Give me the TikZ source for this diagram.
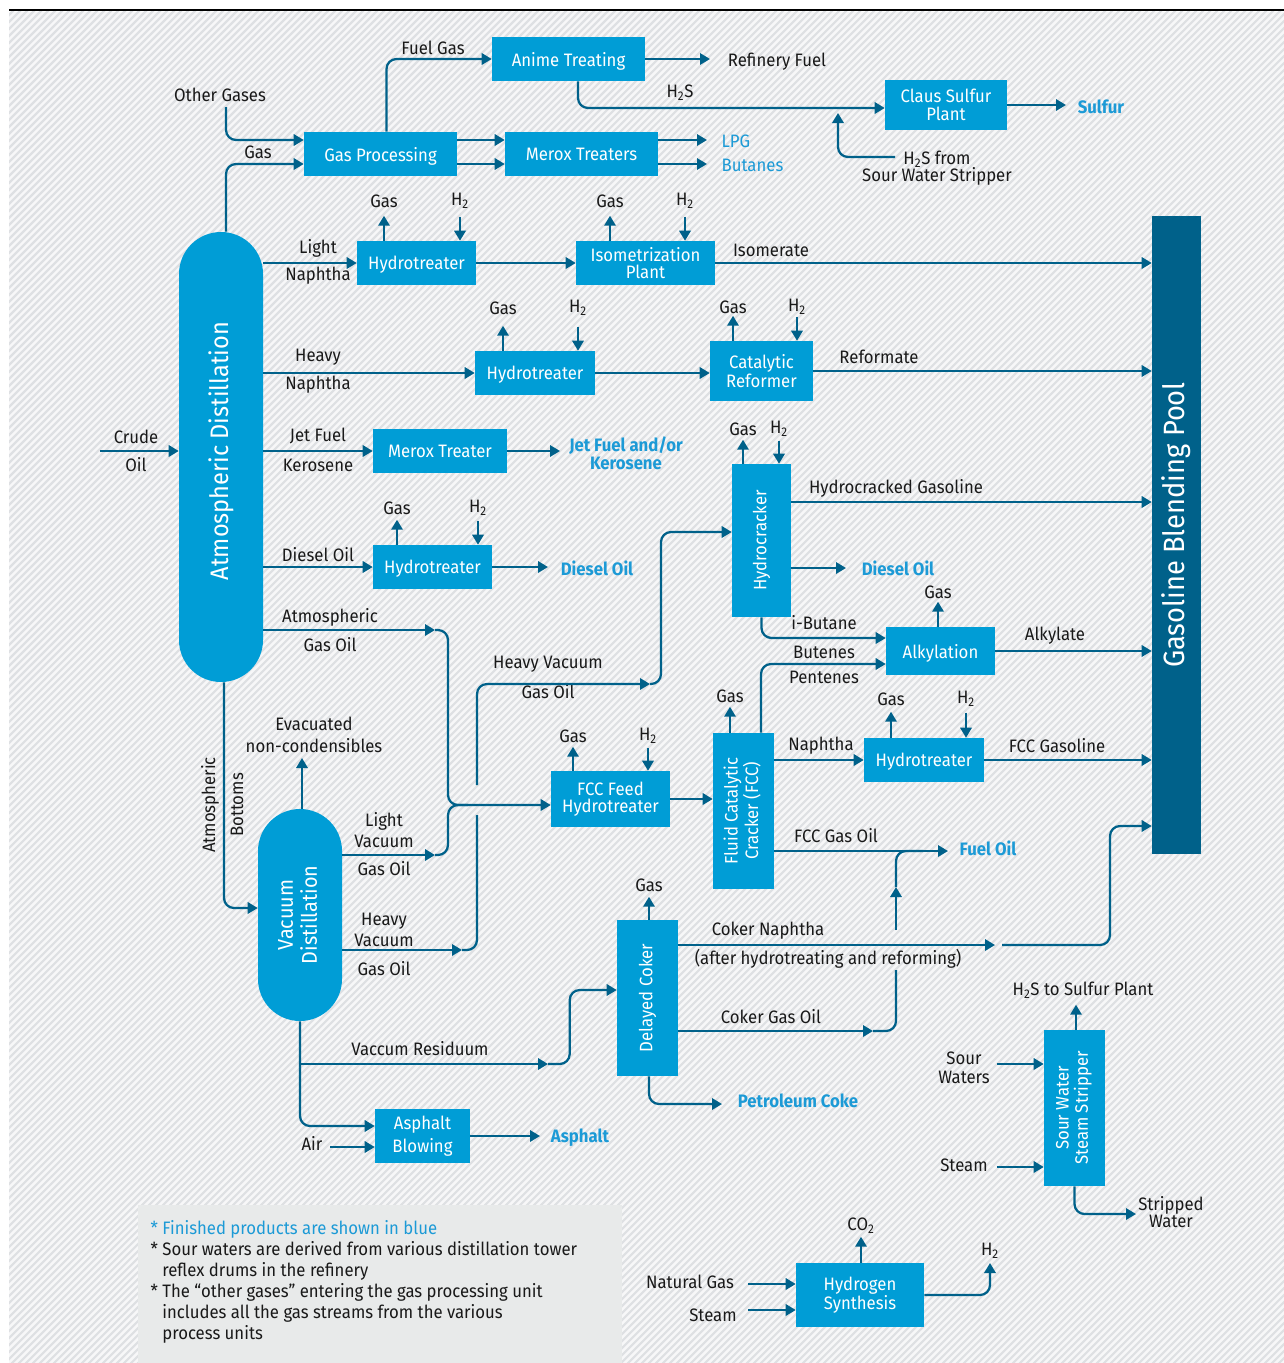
\documentclass[tikz,border=0pt]{standalone}
\usepackage{fontspec}
\setmainfont{Fira Sans}[FakeStretch=0.93]
\usepackage{graphicx}
\usetikzlibrary{arrows.meta,calc}

\definecolor{unitblue}{RGB}{0,157,214}
\definecolor{flowblue}{RGB}{0,97,138}
\definecolor{prodblue}{RGB}{28,154,214}
\definecolor{ink}{RGB}{25,25,25}
\definecolor{notegray}{RGB}{232,234,234}
\definecolor{hatchgray}{RGB}{222,224,227}
\definecolor{paper}{RGB}{247,247,248}

\newcommand\lblfont{\fontsize{13.5}{16}\selectfont}
\newcommand\unitfont{\fontsize{13.5}{13}\selectfont}
\newcommand\prodfont{\fontsize{13.5}{13.5}\selectfont\bfseries}

\tikzset{
  unit/.style={fill=unitblue, text=white, inner sep=0pt, align=center, font=\unitfont},
  oneline/.style={unit, text depth=0pt},
  vessel/.style={unit, rounded corners=31.5pt},
  wh/.style 2 args={minimum width=#1*0.75pt, minimum height=#2*0.75pt},
  lbl/.style={text=ink, font=\lblfont, inner sep=1pt, align=center},
  prod/.style={text=prodblue, font=\prodfont, inner sep=1pt, align=center},
  prodlt/.style={text=prodblue, font=\lblfont, inner sep=1pt},
  pipe/.style={draw=flowblue, line width=1.7pt, rounded corners=7.5pt},
  flow/.style={pipe, -{Triangle[length=7.5pt,width=8.5pt]}},
}

\begin{document}
\begin{tikzpicture}[x=0.75pt,y=-0.75pt]
\useasboundingbox (0,0) rectangle (1284,1363);

% hatched paper
\fill[paper] (9,12) rectangle (1284,1363);
\begin{scope}
  \clip (9,12) rectangle (1284,1363);
  \foreach \k in {0,...,380} {
    \draw[hatchgray, line width=1.6pt] ({\k*7-1360},1370) -- ++(1370,-1370);
  }
\end{scope}
\draw[black, line width=1.1pt] (9,10) -- (1284,10);

% notes panel
\node[fill=notegray, inner sep=0pt, wh={484}{158}] (notes) at (380,1284) {};
\node[lbl, anchor=north west, align=left, font=\fontsize{13.5}{15.75}\selectfont] (notetext) at (149,1219)
  {{\color{prodblue}* Finished products are shown in blue}\\
   * Sour waters are derived from various distillation tower\\
   \phantom{* }reflex drums in the refinery\\
   * The “other gases” entering the gas processing unit\\
   \phantom{* }includes all the gas streams from the various\\
   \phantom{* }process units};

% process units
\node[oneline, wh={153}{44}] (anime) at (568.5,59) {Anime Treating};
\node[oneline, wh={153}{44}] (gasproc) at (380.5,154) {Gas Processing};
\node[oneline, wh={153}{44}] (merox) at (581.5,154) {Merox Treaters};
\node[unit, wh={122}{50}] (claus) at (946,105) {Claus Sulfur\\Plant};
\node[oneline, wh={119}{44}] (htln) at (416.5,263) {Hydrotreater};
\node[unit, wh={139}{44}] (isom) at (645.5,263) {Isometrization\\Plant};
\node[oneline, wh={120}{44}] (hthn) at (535,373) {Hydrotreater};
\node[unit, wh={103}{60}] (reformer) at (761.5,371) {Catalytic\\Reformer};
\node[oneline, wh={134}{44}] (meroxjet) at (440,451) {Merox Treater};
\node[oneline, wh={119}{44}] (htdiesel) at (432.5,567) {Hydrotreater};
\node[unit, wh={59}{153}] (hcrack) at (761.5,540.5) {\rotatebox{90}{Hydrocracker}};
\node[oneline, wh={109}{48}] (alky) at (940.5,651) {Alkylation};
\node[unit, wh={119}{56}] (fccfeed) at (610.5,799) {FCC Feed\\Hydrotreater};
\node[unit, wh={61}{156}] (fcc) at (743.5,811)
  {\rotatebox{90}{\begin{tabular}{@{}c@{}}Fluid Catalytic\\Cracker (FCC)\end{tabular}}};
\node[oneline, wh={120}{44}] (htfcc) at (924,760) {Hydrotreater};
\node[unit, wh={61}{156}] (coker) at (647.5,998) {\rotatebox{90}{Delayed Coker}};
\node[unit, wh={95}{54}] (asphalt) at (422.5,1136) {Asphalt\\[2.5pt]Blowing};
\node[unit, wh={61}{156}] (sws) at (1074.5,1108)
  {\rotatebox{90}{\begin{tabular}{@{}c@{}}Sour Water\\Steam Stripper\end{tabular}}};
\node[unit, wh={128}{64}] (h2syn) at (860,1295) {Hydrogen\\Synthesis};
\node[unit, fill=flowblue, wh={49}{638}] (pool) at (1176.5,535)
  {\rotatebox{90}{\fontsize{22}{22}\selectfont\hspace*{15pt}Gasoline Blending Pool}};
\node[vessel, wh={84}{450}] (atm) at (221,457)
  {\rotatebox{90}{\fontsize{19}{19}\selectfont\hspace*{9pt}Atmospheric Distillation}};
\node[vessel, wh={84}{212}] (vac) at (300,915)
  {\rotatebox{90}{\fontsize{16}{18}\selectfont\begin{tabular}{@{}c@{}}Vacuum\\Distillation\end{tabular}}};

% stream labels
\node[lbl] (othergases) at (220,95) {Other Gases};
\node[lbl] (gaslbl) at (258,152) {Gas};
\node[lbl] (fuelgas) at (433,48) {Fuel Gas};
\node[lbl] (refuel) at (777,62) {Refinery Fuel};
\node[lbl] (h2slbl) at (680,93) {H\textsubscript{2}S};
\node[lbl] (h2sfrom) at (937,168) {H\textsubscript{2}S from\\[-3pt]Sour Water Stripper};
\node[prod] (sulfur) at (1101,107) {Sulfur};
\node[prodlt, anchor=west] (lpg) at (720,141) {LPG};
\node[prodlt, anchor=west] (butanes) at (720,165) {Butanes};

\node[lbl] (lightn) at (318,248) {Light};
\node[lbl] (naphl) at (318,276) {Naphtha};
\node[lbl] (htlnGas) at (384,201) {Gas};
\node[lbl] (htlnH) at (460,201) {H\textsubscript{2}};
\node[lbl] (isomGas) at (610,201) {Gas};
\node[lbl] (isomH) at (685,201) {H\textsubscript{2}};
\node[lbl] (isomerate) at (771,250) {Isomerate};

\node[lbl] (heavyn) at (318,357) {Heavy};
\node[lbl] (naphh) at (318,385) {Naphtha};
\node[lbl] (hthnGas) at (503,308) {Gas};
\node[lbl] (hthnH) at (578,308) {H\textsubscript{2}};
\node[lbl] (refGas) at (733,307) {Gas};
\node[lbl] (refH) at (797,307) {H\textsubscript{2}};
\node[lbl] (reformate) at (879,357) {Reformate};

\node[lbl] (crude) at (136,437) {Crude};
\node[lbl] (oil) at (136,465) {Oil};
\node[lbl] (jetfuel) at (318,436) {Jet Fuel};
\node[lbl] (kero) at (318,465) {Kerosene};
\node[prod] (jetprod) at (626,453) {Jet Fuel and/or\\Kerosene};

\node[lbl] (htdGas) at (397,508) {Gas};
\node[lbl] (htdH) at (478,508) {H\textsubscript{2}};
\node[lbl] (diesellbl) at (318,555) {Diesel Oil};
\node[prod] (dieselprod) at (597,568) {Diesel Oil};

\node[lbl] (hcGas) at (743,429) {Gas};
\node[lbl] (hcH) at (779,429) {H\textsubscript{2}};
\node[lbl] (hcgasoline) at (896,488) {Hydrocracked Gasoline};
\node[prod] (dieselprodb) at (898,568) {Diesel Oil};
\node[lbl] (alkyGas) at (938,592) {Gas};
\node[lbl] (ibutane) at (824,623) {i-Butane};
\node[lbl] (alkylate) at (1055,636) {Alkylate};
\node[lbl] (butenes) at (824,652) {Butenes};
\node[lbl] (pentenes) at (824,677) {Pentenes};

\node[lbl] (atmgoa) at (330,617) {Atmospheric};
\node[lbl] (atmgob) at (330,645) {Gas Oil};
\node[lbl] (hvgoa) at (548,664) {Heavy Vacuum};
\node[lbl] (hvgob) at (548,692) {Gas Oil};
\node[lbl] (evac) at (314,735) {Evacuated\\non-condensibles};
\node[lbl] (fccGas) at (730,696) {Gas};
\node[lbl] (htfGas) at (891,699) {Gas};
\node[lbl] (htfH) at (966,699) {H\textsubscript{2}};
\node[lbl] (naphfcc) at (821,746) {Naphtha};
\node[lbl] (fccgasoline) at (1057,746) {FCC Gasoline};
\node[lbl] (feedGas) at (573,736) {Gas};
\node[lbl] (feedH) at (648,736) {H\textsubscript{2}};
\node[lbl] (lvgoa) at (384,830) {Light\\Vacuum};
\node[lbl] (lvgob) at (384,869) {Gas Oil};
\node[lbl] (fccgo) at (836,836) {FCC Gas Oil};
\node[prod] (fueloil) at (988,848) {Fuel Oil};
\node[lbl, rotate=90] (atmba) at (210,805) {Atmospheric};
\node[lbl, rotate=90] (atmbb) at (237,805) {Bottoms};

\node[lbl] (cokerGas) at (649,885) {Gas};
\node[lbl] (hvgoc) at (384,930) {Heavy\\Vacuum};
\node[lbl] (hvgod) at (384,969) {Gas Oil};
\node[lbl] (cokernaph) at (768,931) {Coker Naphtha};
\node[lbl] (afterht) at (828,959) {(after hydrotreating and reforming)};
\node[lbl] (cokergo) at (771,1017) {Coker Gas Oil};
\node[lbl] (vacres) at (420,1049) {Vaccum Residuum};
\node[prod] (petcoke) at (798,1101) {Petroleum Coke};
\node[lbl] (air) at (312,1143) {Air};
\node[prod] (asphprod) at (580,1138) {Asphalt};

\node[lbl] (h2ssp) at (1083,990) {H\textsubscript{2}S to Sulfur Plant};
\node[lbl] (sour) at (964,1068) {Sour\\[-2pt]Waters};
\node[lbl] (steama) at (964,1165) {Steam};
\node[lbl] (stripped) at (1171,1212) {Stripped\\[-3pt]Water};
\node[lbl] (co2) at (861,1226) {CO\textsubscript{2}};
\node[lbl] (h2out) at (990,1251) {H\textsubscript{2}};
\node[lbl] (natgas) at (690,1282) {Natural Gas};
\node[lbl] (steamb) at (713,1315) {Steam};

% free ends of streams
\coordinate (ogstart) at (226,107);
\coordinate (rftip) at (710,59);
\coordinate (swsh2s) at (895,157);
\coordinate (swsh2stip) at (838,113);
\coordinate (sulfurtip) at (1066,105);
\coordinate (lpgtip) at (707,140);
\coordinate (butip) at (707,164);
\coordinate (crudein) at (100,451);
\coordinate (jettip) at (560,451);
\coordinate (dieseltip) at (548,567);
\coordinate (hcgy) at (1100,502);
\coordinate (dieseltipb) at (846,568);
\coordinate (agotip) at (435,630);
\coordinate (merge) at (448,805);
\coordinate (lvgotip) at (435,855);
\coordinate (hvgotip) at (462,950);
\coordinate (hvgogap) at (477,815);
\coordinate (hvgoresume) at (477,785);
\coordinate (hvgotipb) at (650,684);
\coordinate (hvgoturn) at (661,532);
\coordinate (evtip) at (302,758);
\coordinate (fotip) at (948,851);
\coordinate (cntip) at (995,945);
\coordinate (cnresume) at (1002,945);
\coordinate (cnturn) at (1110,826);
\coordinate (cgotip) at (873,1031);
\coordinate (cgogap) at (896,970);
\coordinate (cgoresume) at (896,930);
\coordinate (cgotipb) at (896,887);
\coordinate (pctip) at (722,1104);
\coordinate (vrbranch) at (300,1064);
\coordinate (vrtip) at (548,1064);
\coordinate (airin) at (330,1147);
\coordinate (asphtip) at (540,1136);
\coordinate (swin) at (997,1064);
\coordinate (stin) at (997,1167);
\coordinate (swtip) at (1136,1214);
\coordinate (ngin) at (748,1284);
\coordinate (stbin) at (748,1310);
\coordinate (h2tip) at (990,1263);

% gas plant and sulfur
\draw[flow] (ogstart) |- ($(gasproc.west)+(0,-14)$);
\draw[flow] ($(atm.north)+(5,0)$) |- ($(gasproc.west)+(0,10)$);
\draw[flow] ($(gasproc.north)+(6,0)$) |- (anime.west);
\draw[flow] (anime.east) -- (rftip);
\draw[flow] ($(anime.south)+(9.5,0)$) |- ($(claus.west)+(0,3)$);
\draw[flow] (swsh2s) -| (swsh2stip);
\draw[flow] (claus.east) -- (sulfurtip);
\draw[flow] ($(gasproc.east)+(0,-14)$) -- ($(merox.west)+(0,-14)$);
\draw[flow] ($(gasproc.east)+(0,10)$) -- ($(merox.west)+(0,10)$);
\draw[flow] (merox.east |- lpgtip) -- (lpgtip);
\draw[flow] (merox.east |- butip) -- (butip);

% naphtha trains
\draw[flow] (atm.east |- htln) -- (htln.west);
\draw[flow] (htln.east) -- (isom.west);
\draw[flow] (isom.east) -- (isom.east -| pool.west);
\draw[flow] (atm.east |- hthn) -- (hthn.west);
\draw[flow] (hthn.east) -- (hthn.east -| reformer.west);
\draw[flow] (reformer.east) -- (reformer.east -| pool.west);

% gas off / hydrogen in
\draw[flow] (htln.north -| htlnGas) -- ++(0,-25);
\draw[flow] ($(htln.north -| htlnH)+(0,-24)$) -- (htln.north -| htlnH);
\draw[flow] (isom.north -| isomGas) -- ++(0,-25);
\draw[flow] ($(isom.north -| isomH)+(0,-24)$) -- (isom.north -| isomH);
\draw[flow] (hthn.north -| hthnGas) -- ++(0,-25);
\draw[flow] ($(hthn.north -| hthnH)+(0,-24)$) -- (hthn.north -| hthnH);
\draw[flow] (reformer.north -| refGas) -- ++(0,-25);
\draw[flow] ($(reformer.north -| refH)+(0,-24)$) -- (reformer.north -| refH);
\draw[flow] (htdiesel.north -| htdGas) -- ++(0,-25);
\draw[flow] ($(htdiesel.north -| htdH)+(0,-24)$) -- (htdiesel.north -| htdH);
\draw[flow] (hcrack.north -| hcGas) -- ++(0,-24);
\draw[flow] ($(hcrack.north -| hcH)+(0,-23)$) -- (hcrack.north -| hcH);
\draw[flow] (alky.north -| alkyGas) -- ++(0,-25);
\draw[flow] (fccfeed.north -| feedGas) -- ++(0,-24);
\draw[flow] ($(fccfeed.north -| feedH)+(0,-23)$) -- (fccfeed.north -| feedH);
\draw[flow] (fcc.north -| fccGas) -- ++(0,-26);
\draw[flow] (htfcc.north -| htfGas) -- ++(0,-26);
\draw[flow] ($(htfcc.north -| htfH)+(0,-25)$) -- (htfcc.north -| htfH);
\draw[flow] (coker.north -| cokerGas) -- ++(0,-23);

% crude, jet fuel, diesel
\draw[flow] (crudein) -- (crudein -| atm.west);
\draw[flow] (atm.east |- meroxjet) -- (meroxjet.west);
\draw[flow] (meroxjet.east) -- (jettip);
\draw[flow] (atm.east |- htdiesel) -- (htdiesel.west);
\draw[flow] (htdiesel.east) -- (dieseltip);

% hydrocracker and alkylation
\draw[flow] (hcrack.east |- hcgy) -- (hcgy -| pool.west);
\draw[flow] (hcrack.east |- dieseltipb) -- (dieseltipb);
\draw[flow] (hcrack.south) |- ($(alky.west)+(0,-13)$);
\draw[flow] ($(fcc.north)+(17.5,0)$) |- ($(alky.west)+(0,13)$);
\draw[flow] (alky.east) -- (alky.east -| pool.west);

% gas oils to FCC feed hydrotreater
\draw[flow] (atm.east |- agotip) -- (agotip);
\draw[flow] (agotip) -| (merge) -- (merge -| fccfeed.west);
\draw[flow] (vac.east |- lvgotip) -- (lvgotip);
\draw[pipe] (lvgotip) -| (merge) -- ++(20,0);
\draw[flow] (vac.east |- hvgotip) -- (hvgotip);
\draw[pipe] (hvgotip) -| (hvgogap);
\draw[flow] (hvgoresume) |- (hvgotipb);
\draw[flow] (hvgotipb) -| (hvgoturn) -- (hvgoturn -| hcrack.west);

% vacuum unit
\draw[flow] (vac.north -| evtip) -- (evtip);
\draw[flow] ($(atm.south)+(3,0)$) |- ($(vac.west)+(0,-7)$);

% FCC
\draw[flow] (fccfeed.east) -- (fccfeed.east -| fcc.west);
\draw[flow] (fcc.east |- htfcc) -- (htfcc.west);
\draw[flow] (htfcc.east) -- (htfcc.east -| pool.west);
\draw[flow] (fcc.east |- fotip) -- (fotip);

% coker
\draw[flow] (coker.east |- cntip) -- (cntip);
\draw[flow] (cnresume) -| (cnturn) -- (cnturn -| pool.west);
\draw[flow] (coker.east |- cgotip) -- (cgotip);
\draw[pipe] (cgotip) -| (cgogap);
\draw[flow] (cgoresume) -- (cgotipb);
\draw[pipe] (cgotipb) |- ($(fotip)+(-25,0)$);
\draw[flow] ($(coker.south)+(1.5,0)$) |- (pctip);

% vacuum residuum
\draw[flow] (vac.south) |- ($(asphalt.west)+(0,-10)$);
\draw[flow] (vrbranch) -- (vrtip);
\draw[flow] (vrtip) -| ($(coker.west)+(-47,-8)$) -- ($(coker.west)+(0,-8)$);
\draw[flow] (airin) -- (airin -| asphalt.west);
\draw[flow] (asphalt.east) -- (asphtip);

% sour water stripper
\draw[flow] ($(sws.north)+(1.5,0)$) -- ++(0,-25);
\draw[flow] (swin) -- (swin -| sws.west);
\draw[flow] (stin) -- (stin -| sws.west);
\draw[flow] (sws.south) |- (swtip);

% hydrogen synthesis
\draw[flow] ($(h2syn.north)+(1,0)$) -- ++(0,-26);
\draw[flow] (ngin) -- (ngin -| h2syn.west);
\draw[flow] (stbin) -- (stbin -| h2syn.west);
\draw[flow] (h2syn.east) -| (h2tip);

\end{tikzpicture}
\end{document}
